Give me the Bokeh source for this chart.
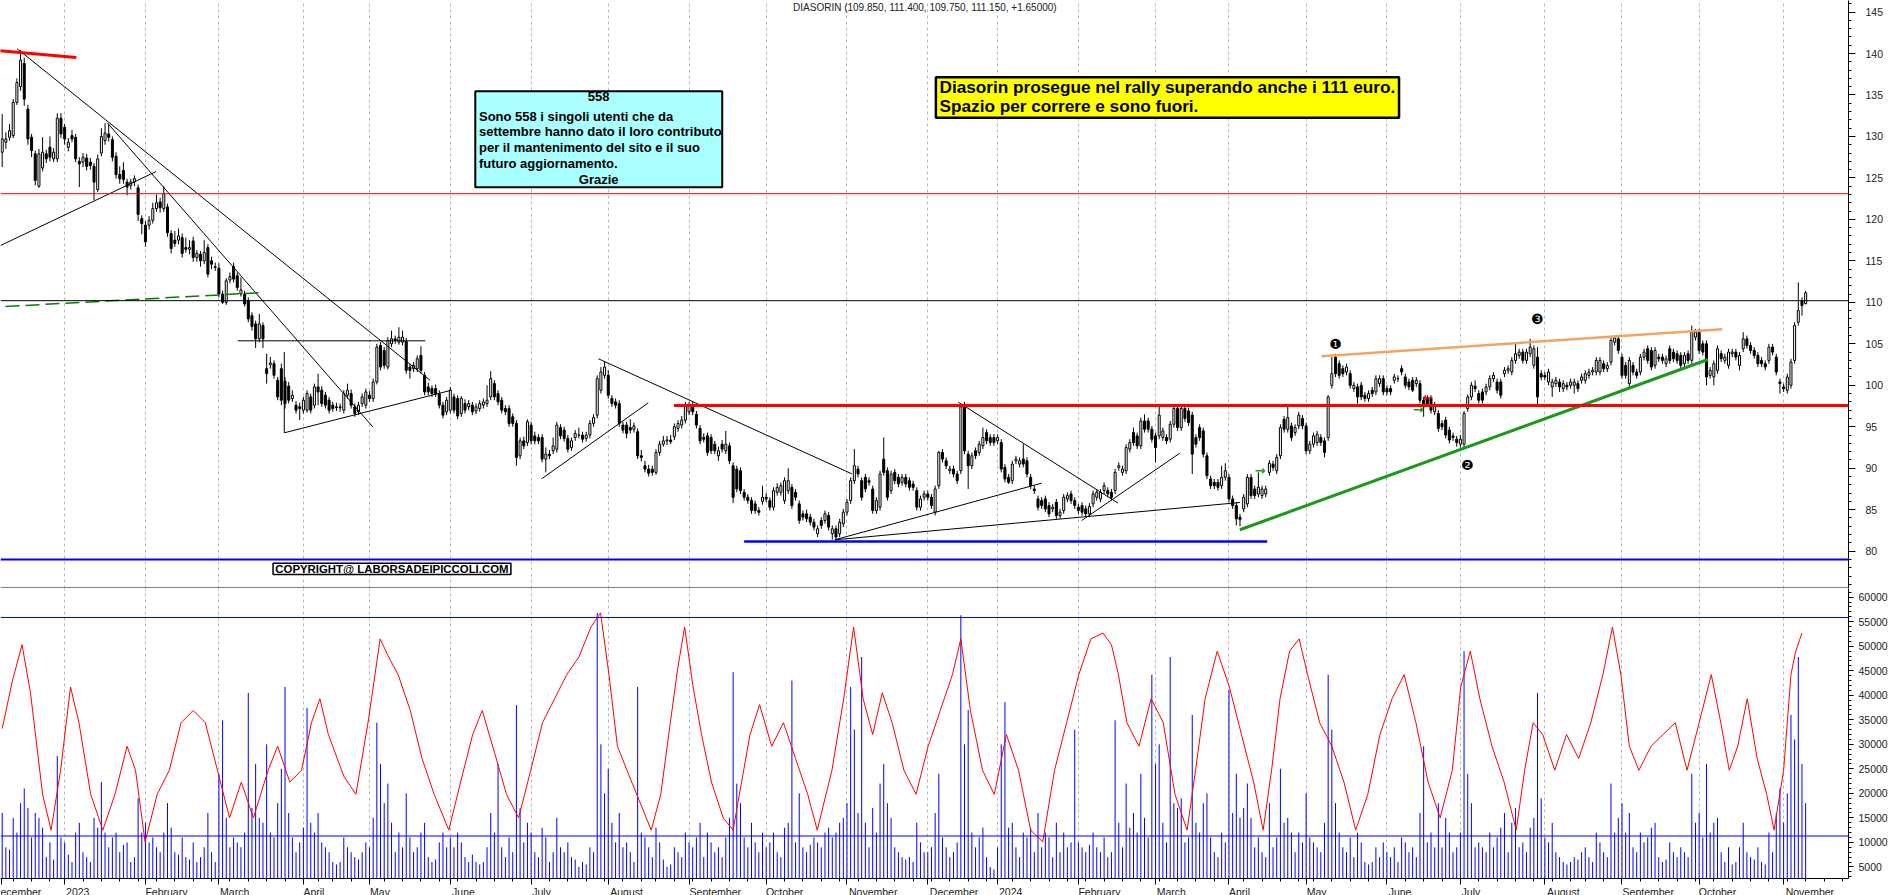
import numpy as np
import pandas as pd
from bokeh.plotting import figure
from bokeh.layouts import column
from bokeh.models import (Range1d, FixedTicker, Span, Grid, GlobalInlineStyleSheet, AllLabels, Label)
from bokeh.core.properties import value
from bokeh.embed import file_html
from bokeh.resources import INLINE

# ---------------- DATA (daily OHLC) ----------------
dec22 = [(128.1,132.7,126.3,129.7),(129.3,130.5,128.5,129.7),(129.9,131.5,129.5,130.7),(130.1,134.5,129.8,134.1),
 (134.1,137.0,133.8,136.5),(136.0,140.4,135.5,139.2),(138.8,139.5,133.7,134.5),(133.3,133.8,129.0,129.7),
 (129.9,130.3,127.5,128.3),(127.9,128.3,124.1,124.7),(124.0,128.5,123.8,127.9),(126.2,129.9,125.8,128.1),
 (127.9,128.4,126.8,127.3),(128.7,130.0,127.0,127.5),(127.3,128.6,126.9,128.1),(127.3,132.8,126.9,132.2),
 (132.2,132.8,129.8,130.3)]
jan23 = [(131.1,131.5,129.0,129.7),(128.7,129.8,128.2,129.3),(130.1,130.8,129.3,129.7),(129.9,130.3,126.9,127.3),
 (127.0,127.5,123.9,126.7),(126.9,128.0,126.3,127.5),(127.4,127.9,125.9,126.4),(126.9,127.4,126.0,126.5),
 (126.4,126.8,122.3,124.5),(123.6,127.8,123.3,127.3),(128.0,131.0,127.6,130.0),(129.5,131.6,129.0,130.4),
 (130.3,131.5,129.4,129.9),(129.6,130.0,127.0,127.5),(127.6,128.1,124.9,125.4),(125.4,126.4,124.3,124.9),
 (125.9,126.9,124.3,124.8),(124.5,124.9,122.9,123.9),(124.1,124.9,123.6,124.5),(124.5,125.3,124.0,124.9),
 (123.8,124.2,119.8,120.6),(120.1,120.5,118.2,119.5)]
feb23 = [(119.3,119.8,116.7,117.3),(119.3,120.4,118.8,119.9),(119.9,122.0,119.5,121.3),(121.3,123.0,120.9,122.0),
 (122.1,122.6,120.8,121.4),(121.3,124.0,120.9,123.1),(121.5,121.9,117.9,118.4),(118.3,118.7,115.9,116.5),
 (117.5,118.6,116.7,117.1),(117.5,118.9,117.0,118.0),(117.8,118.3,115.4,115.9),(116.6,117.8,116.0,116.4),
 (116.4,117.5,115.8,116.6),(117.4,117.9,114.9,115.4),(115.4,116.3,114.9,115.9),(115.8,116.2,114.3,115.0),
 (115.0,117.5,114.6,116.0),(116.6,117.0,113.0,113.4),(115.0,115.5,114.0,114.6),(114.2,114.8,113.8,114.3)]
mar23 = [(114.1,114.7,110.6,111.0),(111.0,111.4,109.8,110.0),(110.0,112.9,109.7,112.6),(112.7,113.6,112.3,113.1),
 (114.3,114.8,112.4,112.8),(113.2,113.6,111.4,111.8),(111.0,113.0,110.7,111.5),(111.0,111.4,109.5,109.8),
 (110.2,110.6,107.6,108.0),(108.4,108.8,106.6,107.1),(107.4,107.8,104.5,105.6),(105.6,108.6,105.2,107.4),
 (107.2,107.6,104.5,105.6),(102.0,103.8,100.2,101.4),(102.5,103.4,102.0,102.7),(102.6,103.0,100.8,101.2),
 (100.6,101.0,98.2,98.6),(102.0,102.6,97.6,98.2),(100.5,101.0,97.2,97.8),(99.9,100.4,97.8,98.2),
 (98.4,99.4,98.0,98.8),(97.6,98.1,96.6,97.0),(97.4,97.9,95.8,97.2)]
apr23 = [(97.0,98.6,96.6,98.2),(97.0,99.4,96.7,99.0),(98.6,99.0,96.6,97.0),(97.6,100.2,97.2,99.8),
 (99.8,101.4,97.6,99.2),(99.4,99.9,97.4,97.8),(98.8,99.2,97.2,97.6),(98.2,98.6,96.6,97.0),
 (97.6,98.0,96.8,97.2),(97.4,97.9,96.9,97.3),(97.3,97.8,96.8,97.4),(97.0,99.4,96.6,99.0),
 (98.8,100.2,98.4,99.4),(99.0,99.5,97.2,97.6),(97.4,97.8,96.2,96.6),(96.8,98.0,96.4,97.6),
 (97.8,99.0,97.4,98.6),(97.6,99.6,97.2,99.2)]
may23 = [(98.8,99.3,98.0,98.4),(98.4,100.8,98.0,100.4),(100.4,105.0,100.1,104.6),(104.8,105.2,101.8,102.2),
 (104.2,104.6,102.0,102.4),(102.2,105.8,101.9,105.4),(105.0,106.6,104.6,105.6),(105.6,106.0,105.0,105.4),
 (105.2,107.0,104.9,105.8),(105.2,106.6,104.8,105.8),(105.3,105.7,101.4,101.8),(102.2,102.6,100.8,101.8),
 (102.0,102.8,101.6,102.4),(102.0,103.6,101.6,103.2),(103.6,104.7,101.4,101.8),(101.2,101.6,98.8,99.2),
 (99.8,100.3,98.8,99.2),(99.6,100.0,98.6,99.0),(99.6,100.1,98.6,99.0),(99.0,99.4,97.2,97.6),
 (97.6,98.0,96.0,96.4),(96.8,98.6,96.4,98.2)]
jun23 = [(97.0,99.8,96.6,99.4),(98.6,99.0,96.6,97.0),(98.4,98.8,95.9,96.3),(96.6,98.7,96.2,98.4),
 (97.8,98.3,96.6,97.0),(97.4,98.2,97.0,97.8),(97.6,98.0,96.4,96.8),(96.9,97.8,96.5,97.4),
 (97.2,98.2,96.8,97.8),(97.6,98.4,97.2,98.0),(97.8,100.0,97.4,98.2),(98.6,101.7,98.2,100.8),
 (100.2,100.6,98.2,98.6),(99.0,99.4,97.6,98.0),(98.2,98.6,96.6,97.0),(97.2,97.6,96.4,96.8),
 (97.2,97.6,95.0,95.4),(96.2,96.6,95.0,95.4),(95.4,95.8,90.3,91.3),(91.5,93.7,91.1,93.3),
 (93.3,93.8,92.3,92.7),(93.1,95.9,92.7,95.6)]
jul23 = [(95.2,95.6,92.9,93.3),(93.9,94.4,92.9,93.3),(93.7,94.1,92.9,93.3),(93.7,94.1,90.7,91.1),
 (91.1,92.5,89.5,91.7),(91.7,92.2,91.1,91.5),(92.1,93.7,91.7,92.7),(92.3,95.6,91.9,95.2),
 (94.9,95.3,93.5,93.9),(94.6,95.0,93.2,93.6),(93.6,94.0,91.9,92.3),(92.5,93.7,92.1,93.3),
 (93.7,94.6,93.3,94.2),(94.0,94.9,93.6,94.0),(94.0,94.4,93.1,93.5),(93.6,94.4,93.2,94.0),
 (94.0,95.8,93.6,95.4),(95.4,96.5,95.0,96.1),(96.4,101.2,96.0,100.8),(99.4,102.2,99.0,101.6),
 (101.2,102.9,100.8,102.2)]
aug23 = [(101.2,101.8,98.4,98.8),(98.4,98.8,97.4,97.8),(98.0,98.4,97.2,97.6),(97.8,98.2,95.0,95.4),
 (95.2,95.6,94.2,94.6),(95.2,95.6,93.6,94.2),(94.9,95.9,94.2,94.6),(94.7,95.5,94.3,95.1),
 (94.4,94.8,91.1,91.5),(91.5,92.2,90.8,91.3),(90.3,90.9,89.5,89.9),(89.9,90.4,89.0,89.4),
 (89.9,90.3,89.1,89.5),(89.5,92.3,89.2,91.9),(91.9,93.3,91.5,92.9),(92.9,93.9,92.6,93.3),
 (93.3,93.9,92.8,93.4),(93.4,94.0,92.9,93.2),(93.8,95.4,93.4,95.0),(94.8,95.8,94.4,95.4),
 (95.2,96.3,94.8,95.8),(95.8,98.0,95.4,97.6)]
sep23 = [(96.8,98.0,96.4,97.6),(97.4,98.0,96.4,96.8),(96.5,96.9,94.8,95.2),(94.8,95.2,92.9,93.3),
 (93.7,94.2,93.1,93.5),(93.9,94.3,91.5,91.9),(93.7,94.1,91.7,92.1),(92.9,93.3,91.7,92.1),
 (91.5,92.6,90.9,92.1),(92.9,93.4,91.9,92.3),(92.1,94.5,91.7,92.9),(92.7,93.1,90.5,90.9),
 (90.3,90.7,85.8,86.5),(89.9,90.3,87.1,87.5),(89.7,90.1,86.9,87.3),(87.1,87.5,86.1,86.5),
 (86.5,86.9,85.7,86.1),(86.1,86.5,84.5,84.9),(85.7,86.1,84.5,84.9),(84.9,85.3,84.3,84.7),
 (86.0,87.9,85.6,86.5)]
oct23 = [(86.5,87.0,85.9,86.3),(86.1,86.5,84.9,85.3),(85.3,87.7,84.9,87.3),(87.1,88.2,86.7,87.7),
 (87.1,88.3,86.7,87.9),(86.1,88.9,85.7,88.5),(87.3,90.0,86.9,88.5),(87.7,88.1,85.1,85.5),
 (87.1,87.5,86.1,86.5),(85.7,86.1,83.3,83.7),(84.5,84.9,83.7,84.1),(84.5,85.0,83.5,83.9),
 (84.1,84.5,83.1,83.5),(83.5,83.9,82.5,82.9),(82.1,83.1,81.7,82.7),(83.7,84.1,82.7,83.1),
 (83.7,84.9,83.3,84.5),(84.3,84.7,82.5,82.9),(82.1,83.1,81.4,82.7),(82.7,83.1,81.3,81.7),
 (82.1,83.9,81.7,83.5),(83.3,85.1,82.9,84.7)]
nov23 = [(84.7,86.3,84.3,85.9),(86.1,88.9,85.7,88.5),(88.5,92.3,88.1,90.3),(89.9,90.3,88.9,89.3),
 (88.5,88.9,86.1,86.5),(88.9,89.3,87.1,87.5),(88.5,88.9,87.9,88.3),(87.5,87.9,84.5,84.9),
 (84.9,86.5,84.5,86.1),(85.3,89.7,84.9,89.3),(91.1,93.7,89.1,89.5),(89.7,90.1,86.1,86.5),
 (87.3,89.7,86.9,89.3),(89.5,89.9,88.1,88.5),(88.9,89.3,87.7,88.1),(88.3,89.3,87.9,88.9),
 (88.9,89.3,87.7,88.1),(88.5,88.9,87.3,87.7),(88.1,88.5,87.3,87.7),(87.3,87.7,84.9,85.3),
 (85.3,86.7,84.9,86.3),(86.5,87.3,86.1,86.9)]
dec23 = [(86.9,87.3,86.1,86.5),(86.5,86.9,85.1,85.5),(84.7,87.9,84.3,87.5),(87.9,92.1,87.5,91.9),
 (91.9,92.3,90.7,91.1),(90.9,91.3,89.9,90.3),(89.7,90.3,89.3,89.9),(89.9,90.3,88.9,89.3),
 (89.3,89.7,88.1,88.5),(89.7,97.8,89.3,97.4),(97.4,98.0,91.7,92.1),(91.7,92.1,87.5,90.3),
 (90.3,91.9,89.9,91.5),(92.1,92.5,91.1,91.5),(91.9,93.3,91.5,92.9),(92.7,94.9,92.3,93.7),
 (94.3,94.7,92.9,93.3),(93.7,94.1,92.7,93.1),(93.7,94.1,92.7,93.1)]
jan24 = [(93.3,94.1,92.9,93.7),(93.1,93.5,89.5,89.9),(90.1,90.5,88.3,88.7),(88.9,89.3,88.1,88.3),
 (88.5,90.9,88.1,90.5),(90.9,91.5,90.5,91.1),(90.5,91.3,90.1,90.9),(91.1,92.9,90.1,90.5),
 (90.9,91.3,88.9,89.3),(88.9,89.3,87.5,87.9),(87.5,87.9,86.9,87.3),(86.3,86.7,84.9,85.3),
 (86.1,86.5,85.1,85.5),(86.3,86.7,84.7,85.1),(85.5,85.9,84.1,84.5),(85.1,85.7,84.7,85.3),
 (85.9,86.3,83.9,84.3),(84.3,85.1,83.9,84.7),(84.9,86.9,84.5,86.5),(86.3,87.1,85.9,86.7),
 (86.9,87.3,85.7,86.1),(86.1,86.5,85.1,85.5)]
feb24 = [(85.3,85.7,84.5,84.9),(85.5,85.9,84.3,84.7),(85.1,85.5,84.1,84.5),(84.5,85.8,84.1,85.4),
 (85.7,87.3,85.3,86.9),(86.5,87.5,86.1,87.1),(86.3,87.5,85.9,87.1),(87.3,88.3,86.9,87.9),
 (87.3,87.7,86.5,86.9),(87.1,87.5,86.1,86.5),(87.3,89.9,86.9,89.5),(90.1,90.7,89.7,90.3),
 (89.5,90.3,89.1,89.9),(89.7,92.9,89.3,92.5),(92.3,93.5,91.9,93.1),(94.3,94.9,92.7,93.1),
 (93.9,94.3,92.3,92.7),(92.7,96.1,92.3,95.7),(95.7,96.5,94.3,94.7),(95.7,96.1,94.3,94.7),
 (94.7,95.1,93.1,93.5)]
mar24 = [(93.9,94.3,90.7,92.5),(93.9,97.5,93.5,96.4),(93.7,94.9,93.3,94.5),(93.7,94.1,92.9,93.3),
 (93.5,95.7,93.1,95.3),(95.3,97.5,94.9,97.2),(97.2,97.6,94.5,94.9),(94.9,97.6,94.5,97.2),
 (97.2,97.4,95.6,96.0),(96.9,97.3,95.1,95.5),(96.4,96.8,89.3,91.7),(93.7,94.1,92.5,92.9),
 (94.9,95.3,93.3,93.7),(94.5,94.9,91.3,91.7),(91.5,91.9,88.7,89.1),(88.7,89.1,87.5,87.9),
 (88.3,88.7,87.5,87.9),(88.3,88.7,87.3,87.7),(87.9,90.3,87.5,88.9),(88.9,90.6,88.5,89.7)]
apr24 = [(88.9,89.3,85.9,86.3),(86.3,86.7,85.1,85.5),(85.5,85.9,83.1,83.9),(84.1,84.5,83.0,83.8),
 (85.1,86.9,84.7,86.5),(85.7,89.3,85.3,88.9),(88.9,89.3,86.3,86.7),(87.5,87.9,86.3,86.7),
 (86.9,89.5,86.5,87.7),(86.7,87.9,86.3,87.5),(86.9,87.9,86.5,87.5),(89.5,91.0,89.1,90.6),
 (90.5,90.9,89.7,90.1),(89.7,91.7,89.3,91.3),(91.5,95.3,91.1,94.9),(95.9,96.3,94.3,94.7),
 (94.7,97.4,94.3,96.1),(95.1,95.5,93.3,93.7),(94.3,95.3,93.9,94.9),(95.1,96.8,94.7,96.4),
 (96.0,96.4,94.7,95.1)]
may24 = [(95.1,95.5,91.7,92.1),(92.1,93.3,91.7,92.9),(92.9,94.3,92.5,93.9),(93.1,94.5,92.7,94.1),
 (93.7,94.1,92.7,93.1),(93.3,93.7,91.3,91.9),(93.7,98.8,93.3,98.6),(100.0,103.4,99.6,101.4),
 (103.4,103.8,101.0,101.4),(102.6,103.0,100.8,101.2),(102.0,102.4,101.0,101.4),(101.6,102.6,101.2,102.2),
 (101.4,101.8,99.6,100.0),(99.6,100.4,99.2,100.0),(99.8,100.2,97.8,98.6),(100.0,100.4,98.2,98.6),
 (98.8,99.2,98.0,98.4),(98.4,99.4,98.0,99.0),(99.4,99.8,98.6,99.0),(99.2,101.2,98.8,100.8),
 (100.2,101.2,99.8,100.8),(100.8,101.2,98.8,99.2)]
jun24 = [(99.6,100.0,98.8,99.2),(99.6,100.0,98.8,99.2),(100.6,101.4,100.2,101.0),(100.8,101.2,100.4,100.8),
 (102.0,102.4,101.2,101.6),(101.0,101.4,99.6,100.0),(100.4,100.8,99.4,99.8),(100.6,101.0,99.2,99.4),
 (100.2,101.0,99.8,100.6),(100.2,100.6,97.8,98.2),(98.2,98.6,96.2,97.4),(98.4,98.8,97.4,97.8),
 (98.4,98.8,96.6,97.0),(96.8,98.0,96.4,97.6),(96.6,97.0,94.4,94.8),(95.4,95.8,94.6,95.0),
 (95.8,96.2,93.6,94.0),(94.6,95.0,93.0,93.4),(93.9,94.3,93.3,93.7),(93.5,93.9,92.6,93.1)]
jul24 = [(92.9,94.0,92.5,93.5),(92.9,96.9,92.5,96.6),(97.2,98.9,96.8,98.6),(98.6,100.4,98.2,100.0),
 (99.9,100.6,99.2,99.6),(99.0,99.4,97.8,98.2),(99.2,99.6,97.8,98.2),(99.2,100.2,98.8,99.8),
 (99.8,101.2,99.4,100.8),(100.8,101.6,100.4,101.2),(100.4,100.8,99.0,99.4),(100.4,100.8,98.4,98.8),
 (101.4,102.2,101.0,101.8),(101.8,102.4,101.4,102.0),(101.6,103.4,101.2,103.0),(103.0,105.2,102.6,103.8),
 (103.6,104.4,103.2,104.0),(104.0,104.4,102.6,103.0),(103.0,104.4,102.6,104.0),(103.8,105.6,103.4,104.6),
 (102.4,104.8,102.0,104.4),(103.4,104.6,97.4,98.6),(101.4,101.8,100.6,101.0)]
aug24 = [(101.2,101.6,100.6,101.0),(100.4,102.0,100.0,101.6),(99.8,100.8,98.6,100.4),(100.2,101.0,99.8,100.6),
 (100.4,100.8,99.2,99.8),(99.6,100.6,99.2,100.2),(100.0,100.4,99.4,99.8),(100.0,100.8,99.6,100.4),
 (100.0,100.8,99.0,100.4),(100.2,100.6,99.2,99.6),(100.6,101.4,100.2,101.0),(100.6,101.8,100.2,101.4),
 (101.2,102.0,100.8,101.6),(101.6,102.2,101.2,101.8),(101.6,103.4,101.2,103.0),(101.6,103.4,101.2,103.0),
 (102.6,103.0,101.6,102.0),(102.0,102.8,101.6,102.4),(102.8,105.8,102.4,105.4),(105.2,106.0,104.8,105.7),
 (105.6,106.0,103.8,104.2)]
sep24 = [(103.4,103.8,100.8,101.2),(102.4,102.8,100.8,101.2),(100.2,103.4,99.8,103.0),(102.4,102.8,101.2,101.6),
 (101.6,102.0,100.8,101.2),(101.6,103.8,101.2,103.4),(103.4,104.4,103.0,104.0),(104.4,104.8,102.6,103.0),
 (104.2,104.6,101.8,102.2),(102.4,104.6,102.0,104.2),(103.4,103.8,102.8,103.2),(103.4,103.8,102.6,103.0),
 (102.6,103.6,102.2,103.2),(104.4,104.8,102.6,103.0),(104.0,104.4,102.8,103.2),(103.8,104.2,102.6,103.0),
 (103.6,104.0,102.0,102.4),(102.6,104.0,102.2,103.6),(103.8,104.2,102.6,103.0),(103.0,107.2,102.6,106.4),
 (105.8,106.8,105.4,106.4)]
oct24 = [(106.4,106.8,103.8,104.2),(105.0,105.4,103.6,104.0),(105.0,105.4,100.0,101.0),(101.2,102.2,100.8,101.8),
 (101.0,103.0,100.0,102.6),(101.8,104.8,101.4,104.4),(103.8,104.2,102.8,103.2),(103.0,103.8,102.6,103.4),
 (102.4,104.4,102.0,104.0),(103.8,104.4,103.4,104.0),(104.0,104.4,103.0,103.4),(102.4,104.0,101.8,103.6),
 (104.4,106.4,104.0,105.6),(105.6,106.0,104.4,104.8),(104.8,105.2,103.8,104.2),(104.2,104.6,103.2,103.6),
 (103.6,104.0,102.2,102.6),(103.0,103.4,102.2,102.6),(102.6,103.0,101.8,102.2),(103.0,105.0,102.6,104.6),
 (104.6,105.0,103.6,104.0),(103.4,103.8,101.2,101.6),(100.4,100.8,99.0,100.2)]
nov24 = [(99.8,100.2,99.2,99.6),(99.4,101.4,99.0,101.0),(100.0,103.2,99.6,102.8),(103.0,107.6,102.6,107.2),
 (107.6,112.4,107.2,109.0),(110.2,110.6,108.4,109.6),(109.85,111.4,109.75,111.15)]

months_ohlc = [dec22, jan23, feb23, mar23, apr23, may23, jun23, jul23, aug23, sep23, oct23, nov23,
               dec23, jan24, feb24, mar24, apr24, may24, jun24, jul24, aug24, sep24, oct24, nov24]

# daily volume (units of the lower axis, "x10")
vol_dec22 = [16000, 9000, 8500, 15000, 12000, 18000, 21000, 17000, 11000, 16000, 15000, 13000, 7000, 10000, 6500,
             27600, 11000]
vol_jan23 = [10000, 7500, 6000, 12000, 14000, 8000, 7000, 6000, 15000, 13000, 22300, 12000, 9000, 11000, 12000,
             8000, 9500, 10000, 6000, 7000, 19000, 12000]
vol_feb23 = [14000, 10000, 11000, 9000, 8000, 12000, 18000, 13000, 8000, 7500, 11000, 7000, 6500, 10000, 6000,
             7000, 9000, 16000, 8000, 6000]
vol_mar23 = [24000, 34900, 15000, 9000, 11000, 10000, 9000, 12000, 40500, 17000, 26000, 15000, 14000, 30000,
             12000, 11000, 18000, 25000, 41700, 16000, 11000, 8000, 10000]
vol_apr23 = [13000, 37400, 14000, 12000, 16000, 10000, 9000, 8000, 6000, 5500, 6000, 11000, 9000, 8000, 7000,
             6500, 8000, 10000]
vol_may23 = [9000, 15000, 34400, 26000, 18000, 22000, 14000, 8000, 12000, 9000, 20000, 11000, 8000, 9000, 12000,
             14000, 7000, 6000, 6500, 10000, 12000, 9000]
vol_jun23 = [11000, 9000, 12000, 10000, 7000, 6000, 7500, 6000, 5500, 6000, 9000, 16000, 12000, 26000, 9000,
             7000, 11000, 8000, 38000, 17000, 10000, 14000]
vol_jul23 = [12000, 8000, 7000, 13000, 11000, 6000, 8000, 15000, 9000, 8000, 10000, 7000, 6500, 5000, 6000, 5500,
             9000, 8000, 56800, 30000, 20000]
vol_aug23 = [25000, 14000, 10000, 16000, 9000, 10000, 8000, 6000, 41700, 12000, 11000, 9000, 7000, 13000, 10000,
             6500, 5000, 5500, 9000, 8000, 7000, 12000]
vol_sep23 = [10000, 9000, 11000, 14000, 7000, 12000, 10000, 8000, 9000, 7000, 11000, 15000, 44700, 22000, 18000,
             11000, 9000, 14000, 10000, 8000, 12000]
vol_oct23 = [9000, 10000, 12000, 8000, 7000, 13000, 14000, 43000, 10000, 20000, 9000, 8000, 9500, 11000, 10000,
             9000, 12000, 13000, 11000, 12000, 14000, 15000]
vol_nov23 = [18000, 41700, 33000, 16000, 47800, 14000, 9000, 17000, 12000, 22000, 26000, 18000, 15000, 9000,
             8000, 7000, 6500, 7000, 6000, 14000, 10000, 8000]
vol_dec23 = [8000, 9000, 16000, 24000, 11000, 9000, 7000, 8000, 10000, 56300, 30000, 37000, 12000, 9000, 11000,
             13000, 7000, 5000, 4500]
vol_jan24 = [9000, 30000, 38600, 13000, 14000, 9000, 7000, 12000, 11000, 13000, 8000, 16000, 9000, 12000, 11000,
             7000, 14000, 8000, 12000, 9000, 10000, 33000]
vol_feb24 = [10000, 9000, 8000, 9500, 12000, 9000, 8000, 11000, 7000, 8000, 34900, 14000, 9000, 22000, 13000,
             16000, 12000, 24000, 15000, 11000, 44200]
vol_mar24 = [26000, 30000, 14000, 10000, 47800, 18000, 17000, 19000, 10000, 11000, 36000, 14000, 12000, 18000,
             20000, 11000, 8000, 7000, 12000, 10000]
vol_apr24 = [41000, 16000, 24000, 15000, 17000, 22000, 15000, 9000, 11000, 8000, 7000, 18000, 9000, 11000, 25000,
             14000, 15000, 12000, 8000, 12000, 10000]
vol_may24 = [20000, 11000, 10000, 9000, 8000, 14000, 44200, 33000, 18000, 12000, 9000, 8000, 11000, 7000, 12000,
             10000, 6000, 5500, 6000, 9000, 7000, 10000]
vol_jun24 = [8000, 7000, 9000, 6000, 11000, 10000, 8000, 9000, 7000, 16000, 29600, 10000, 12000, 9000, 18000,
             9000, 15000, 12000, 8000, 9000]
vol_jul24 = [12000, 49000, 24000, 18000, 9000, 10000, 9000, 8000, 12000, 9000, 11000, 13000, 16000, 8000, 14000,
             17000, 9000, 10000, 8000, 13000, 15000, 40500, 19000]
vol_aug24 = [11000, 10000, 14000, 8000, 7000, 6000, 5500, 6000, 7000, 6500, 8000, 9000, 7000, 6000, 12000, 10000,
             8000, 7000, 22000, 12000, 15000]
vol_sep24 = [18000, 12000, 16000, 9000, 8000, 12000, 10000, 11000, 13000, 14000, 7000, 6000, 6500, 10000, 8000,
             7000, 9000, 8000, 7000, 24000, 14000]
vol_oct24 = [16000, 11000, 26000, 12000, 14000, 15000, 8000, 6000, 9000, 5500, 6000, 9000, 14000, 8000, 7000,
             6500, 9000, 6000, 5500, 12000, 8000, 16000, 21000]
vol_nov24 = [14000, 20000, 36000, 31000, 47800, 26000, 18000]

months_vol = [vol_dec22, vol_jan23, vol_feb23, vol_mar23, vol_apr23, vol_may23, vol_jun23, vol_jul23, vol_aug23,
              vol_sep23, vol_oct23, vol_nov23, vol_dec23, vol_jan24, vol_feb24, vol_mar24, vol_apr24, vol_may24,
              vol_jun24, vol_jul24, vol_aug24, vol_sep24, vol_oct24, vol_nov24]

# red oscillator in the lower panel: (trading-day index, value), read at its turning points
osc_day = [0, 2.8, 5.4, 7.7, 11.0, 13.3, 15.9, 18.6, 20.9, 24.1, 27.4, 30.7, 34.0, 36.3, 38.9, 42.2, 45.5, 48.7,
           52.0, 55.3, 58.6, 61.9, 65.1, 68.4, 72.4, 75.0, 78.3, 81.5, 84.2, 86.5, 88.8, 93.0, 96.3, 99.6, 102.9,
           105.2, 107.8, 111.1, 114.3, 117.6, 121.6, 124.8, 128.1, 130.7, 134.0, 137.3, 140.6, 143.9, 147.1,
           150.4, 153.7, 157.0, 160.3, 162.9, 165.2, 167.5, 170.1, 173.4, 176.7, 179.3, 181.9, 183.9, 185.8,
           188.1, 190.4, 193.1, 196.3, 199.0, 201.3, 203.6, 206.2, 209.5, 212.7, 216.0, 219.3, 221.9, 225.9,
           229.1, 231.8, 234.4, 237.0, 239.6, 242.3, 245.5, 248.8, 252.1, 255.4, 258.7, 261.0, 263.6, 266.9,
           270.1, 273.4, 276.7, 280.0, 283.3, 286.5, 289.8, 293.1, 296.4, 299.7, 302.0, 303.9, 306.2, 309.5,
           312.8, 316.1, 319.3, 322.6, 324.9, 327.5, 330.8, 334.1, 337.4, 340.7, 343.3, 345.6, 347.9, 350.5,
           353.1, 355.4, 358.7, 362.0, 365.3, 368.5, 371.8, 375.1, 378.4, 381.7, 384.9, 388.2, 391.5, 394.8,
           397.1, 399.7, 402.3, 405.6, 408.9, 412.2, 414.5, 416.8, 419.4, 422.7, 425.9, 429.2, 432.5, 435.8,
           438.4, 440.7, 443.0, 445.6, 448.9, 452.2, 455.5, 458.7, 462.0, 465.3, 467.9, 470.2, 472.5, 475.1,
           477.8, 480.4, 482.4, 485.0, 487.0, 488.3, 490.0]
osc_val = [33200, 43000, 50300, 40500, 19800, 12500, 24700, 41700, 34400, 19800, 12500, 19800, 29600, 24700,
           10100, 19800, 24700, 34400, 36900, 34400, 24700, 15000, 22300, 15000, 24700, 29600, 22300, 24700,
           34400, 39300, 32000, 23500, 19800, 34400, 51500, 47800, 44200, 36900, 27100, 19800, 12500, 22300,
           32000, 36900, 28400, 19800, 15000, 24700, 34400, 39300, 44200, 47800, 53900, 56800, 44200, 29600,
           24700, 18600, 12500, 19800, 34400, 45400, 53900, 41700, 32000, 22300, 15000, 12500, 22300, 32000,
           38100, 29600, 34400, 27100, 19800, 12500, 24700, 39300, 53900, 39300, 32000, 40500, 34400, 24700,
           19800, 29600, 36900, 44200, 51500, 36900, 24700, 19800, 32000, 24700, 12500, 10100, 24700, 34400,
           44200, 51500, 52700, 50300, 44200, 34400, 29600, 39300, 34400, 19800, 12500, 24700, 39300, 49000,
           41700, 32000, 22300, 12500, 24700, 39300, 49000, 51500, 44200, 34400, 29600, 22300, 12500, 19800,
           32000, 39300, 44200, 34400, 22300, 15000, 24700, 41700, 49000, 39300, 29600, 22300, 12500, 24700,
           34400, 32000, 24700, 32000, 27100, 34400, 44200, 53900, 44200, 29600, 24700, 29600, 32000, 34400,
           24700, 34400, 44200, 34400, 24700, 29600, 39300, 27100, 19800, 12500, 24700, 44200, 49000, 52700]

first_day = "2022-12-07"
holidays = ["2022-12-26", "2023-04-07", "2023-04-10", "2023-05-01", "2023-08-15", "2023-12-25",
            "2023-12-26", "2024-01-01", "2024-03-29", "2024-04-01", "2024-05-01", "2024-08-15",
            "2024-12-24", "2024-12-25", "2024-12-26", "2024-12-31"]
month_names = ["January", "February", "March", "April", "May", "June", "July", "August",
               "September", "October", "November", "December"]
edge_label = "ecember"   # what is visible of the month cut by the left edge
scale_note = "x10"

# horizontal levels (price)
level_red = 123.1
level_black = 110.2
level_blue = 79.0
level_red_thick = 97.56
level_blue_thick = 81.17
# horizontal levels (lower panel)
vol_level_hi = 55850
vol_level_lo = 11300

# trend lines: (day0, price0, day1, price1)
black_lines = [(4.08, 140.57, 116.5, 100.6), (28.7, 131.6, 100.96, 94.95), (-0.46, 116.85, 41.9, 125.77),
               (64.1, 105.36, 115.2, 105.36), (76.8, 104.0, 76.8, 94.27), (76.8, 94.27, 122.0, 99.37),
               (146.9, 88.73, 175.9, 97.89), (162.3, 103.2, 231.3, 89.33), (226.7, 81.37, 283.0, 88.2),
               (226.7, 81.37, 336.96, 85.87), (260.3, 97.96, 303.8, 85.79), (293.9, 83.7, 320.6, 91.81)]
red_top_line = (-1.0, 140.36, 20.2, 139.52)
green_dashed = (0.9, 109.5, 69.8, 111.15)
orange_line = (359.2, 103.5, 468.3, 106.76)
green_line = (336.96, 82.58, 464.4, 103.11)
red_thick_from = 182.9
blue_thick_span = (202.0, 344.4)

title_text = "DIASORIN (109.850, 111.400, 109.750, 111.150, +1.65000)"
cyan_lines = ["Sono 558 i singoli utenti che da", "settembre hanno dato il loro contributo",
              "per il mantenimento  del sito e il suo", "futuro aggiornamento."]
yellow_lines = ["Diasorin prosegue nel rally superando anche i 111 euro.", "Spazio per correre e sono fuori."]
copyright_text = "COPYRIGHT@ LABORSADEIPICCOLI.COM"

# ---------------- derived ----------------
rows = [r for m in months_ohlc for r in m]
o = np.array([r[0] for r in rows]); h = np.array([r[1] for r in rows])
l = np.array([r[2] for r in rows]); c = np.array([r[3] for r in rows])
n = len(rows)
idx = np.arange(n)
vol = np.array([v for m in months_vol for v in m], dtype=float)
vidx = np.arange(len(vol))

cal = pd.bdate_range("2022-12-01", "2024-12-31")
cal = cal[~cal.isin(pd.to_datetime(holidays))]
pos0 = cal.get_loc(pd.Timestamp(first_day))
cal_idx = np.arange(len(cal)) - pos0
ser = pd.Series(cal_idx, index=cal)
month_first = ser.groupby([ser.index.year, ser.index.month]).min()
month_ticks = [int(v) for v in month_first.values]

# Arial/Liberation Sans advance widths (1/1000 em) to pad axis labels so they start at their tick
AW = {'A': 667, 'D': 722, 'F': 611, 'J': 500, 'M': 833, 'N': 722, 'O': 778, 'S': 667, 'a': 556, 'b': 556,
      'c': 500, 'e': 556, 'g': 556, 'h': 556, 'i': 222, 'l': 222, 'm': 833, 'n': 556, 'o': 556, 'p': 556,
      'r': 333, 's': 500, 't': 278, 'u': 556, 'v': 500, 'y': 500, '0': 556, '1': 556, '2': 556, '3': 556,
      '4': 556, '5': 556, '6': 556, '7': 556, '8': 556, '9': 556}
EN = "\u2002"  # en space, 0.5 em


def em(s):
    return sum(AW.get(ch, 556) for ch in s) / 1000.0


def padded(s, shift_em=0.0):
    k = max(0, int(round((em(s) + shift_em) / 0.5)))
    return EN * k + s


month_labels = {}
for (yy, mm), v in month_first.items():
    lab = str(yy) if mm == 1 else month_names[mm - 1]
    month_labels[int(v)] = padded(lab, 0.15)
axis_ticks = list(month_ticks)
axis_ticks.append(-0.25)
month_labels[-0.25] = edge_label
iso = ser.index.isocalendar()
week_first = ser.groupby([iso.year.values, iso.week.values]).min()
week_ticks = [int(v) for v in week_first.values]

PX = 3.675
X0 = -1.7 / PX
X1 = (1849 - 1.7) / PX

FONT = value("Liberation Sans")
GRID = "#b8b8b8"

# ---------------- price figure ----------------
p1 = figure(width=1890, height=588, x_range=Range1d(X0, X1), y_range=Range1d(75.50, 146.39),
            output_backend="svg", toolbar_location=None, x_axis_location=None, y_axis_location="right",
            min_border_left=0, min_border_top=0, min_border_bottom=0, min_border_right=41)
p1.outline_line_color = None
p1.background_fill_color = "white"
p1.border_fill_color = "white"
for g in p1.xgrid:
    g.visible = False
for g in p1.ygrid:
    g.visible = False
p1.add_layout(Grid(dimension=0, ticker=FixedTicker(ticks=month_ticks), grid_line_color=GRID,
                   grid_line_dash="3 3", grid_line_width=1))

ya = p1.yaxis[0]
ya.ticker = FixedTicker(ticks=list(range(80, 146, 5)), minor_ticks=list(range(76, 147)))
ya.axis_line_color = "black"
ya.major_tick_line_color = "black"
ya.minor_tick_line_color = "black"
ya.major_tick_in = 0
ya.minor_tick_in = 0
ya.major_tick_out = 7
ya.minor_tick_out = 3
ya.major_label_standoff = 10
ya.major_label_text_font = "Liberation Sans"
ya.major_label_text_font_size = "10.5px"
ya.major_label_text_color = "#222222"

for lev, col, w in [(level_red, "red", 1), (level_black, "black", 1), (level_blue, "#0000ff", 2)]:
    p1.add_layout(Span(location=lev, dimension="width", line_color=col, line_width=w))
p1.add_layout(Span(location=75.56, dimension="width", line_color="black", line_width=1))

# candles
up = c >= o
p1.segment(x0=idx, y0=l, x1=idx, y1=h, line_color="black", line_width=1)
p1.vbar(x=idx[up], width=0.55, top=c[up], bottom=o[up], fill_color="white", line_color="black", line_width=1)
p1.vbar(x=idx[~up], width=0.55, top=o[~up], bottom=c[~up], fill_color="black", line_color="black", line_width=1)

# trend lines
p1.segment(x0=[b[0] for b in black_lines], y0=[b[1] for b in black_lines],
           x1=[b[2] for b in black_lines], y1=[b[3] for b in black_lines], line_color="black", line_width=1)
p1.line([red_top_line[0], red_top_line[2]], [red_top_line[1], red_top_line[3]], line_color="red", line_width=3)
p1.line([green_dashed[0], green_dashed[2]], [green_dashed[1], green_dashed[3]], line_color="#008000",
        line_width=1.5, line_dash="14 6")
p1.line([orange_line[0], orange_line[2]], [orange_line[1], orange_line[3]], line_color="#f4a460", line_width=2.5)
p1.line([green_line[0], green_line[2]], [green_line[1], green_line[3]], line_color="#1a9a1a", line_width=3)
p1.line([red_thick_from, X1 + 1], [level_red_thick, level_red_thick], line_color="red", line_width=3)
p1.line(list(blue_thick_span), [level_blue_thick, level_blue_thick], line_color="#0000ff", line_width=2.5)

# markers & arrows
p1.text(x=[363.0, 398.9, 417.96], y=[105.0, 90.42, 107.97], text=["\u2776", "\u2777", "\u2778"],
        text_font=value("DejaVu Sans"), text_font_size="14px", text_align="center", text_baseline="middle",
        text_color="black")
p1.text(x=[342.4, 385.5], y=[89.7, 97.05], text=["\u2192", "\u2192"], text_font=value("DejaVu Sans"),
        text_font_style="bold", text_font_size="13px", text_align="center", text_baseline="middle",
        text_color="#1a9a1a")
p1.text(x=[388.2], y=[98.57], text=["\u2190"], text_font=value("DejaVu Sans"), text_font_style="bold",
        text_font_size="13px", text_align="center", text_baseline="middle", text_color="red")

# title
p1.text(x=[251.2], y=[145.51], text=[title_text], text_font=FONT, text_font_size="10px",
        text_align="center", text_baseline="middle", text_color="#202020")

# cyan box
p1.quad(left=[128.8], right=[196.03], top=[135.44], bottom=[123.89], fill_color="#aaffff",
        line_color="black", line_width=2)
p1.text(x=[162.4, 162.4], y=[134.79, 124.85], text=["558", "Grazie"], text_font=FONT, text_font_style="bold",
        text_font_size="13px", text_align="center", text_baseline="middle", text_color="black")
p1.text(x=[129.8] * 4, y=[132.42, 130.56, 128.61, 126.70], text=cyan_lines, text_font=FONT,
        text_font_style="bold", text_font_size="13px", text_align="left", text_baseline="middle",
        text_color="black")

# yellow box
p1.quad(left=[254.2], right=[380.3], top=[137.14], bottom=[132.25], fill_color="#ffff00",
        line_color="black", line_width=2.5)
p1.text(x=[255.2, 255.2], y=[135.94, 133.73], text=yellow_lines, text_font=FONT, text_font_style="bold",
        text_font_size="17.2px", text_align="left", text_baseline="middle", text_color="black")

# copyright
p1.quad(left=[73.74], right=[138.5], top=[78.55], bottom=[77.19], fill_color="white",
        line_color="black", line_width=1.5)
p1.text(x=[106.1], y=[77.88], text=[copyright_text], text_font=FONT, text_font_style="bold",
        text_font_size="11.4px", text_align="center", text_baseline="middle", text_color="black")

# ---------------- lower figure ----------------
VMIN = 2636
p2 = figure(width=1890, height=312, x_range=p1.x_range, y_range=Range1d(VMIN, 61768),
            output_backend="svg", toolbar_location=None, y_axis_location="right",
            min_border_left=0, min_border_top=0, min_border_bottom=0, min_border_right=41)
p2.outline_line_color = None
p2.background_fill_color = "white"
p2.border_fill_color = "white"
for g in p2.ygrid:
    g.visible = False
for g in p2.xgrid:
    g.visible = False
p2.add_layout(Grid(dimension=0, ticker=FixedTicker(ticks=month_ticks), grid_line_color=GRID,
                   grid_line_dash="3 3", grid_line_width=1))

va = p2.yaxis[0]
va.ticker = FixedTicker(ticks=list(range(5000, 60001, 5000)), minor_ticks=list(range(3000, 62000, 1000)))
va.axis_line_color = "black"
va.major_tick_in = 0
va.minor_tick_in = 0
va.major_tick_out = 5
va.minor_tick_out = 3
va.major_label_standoff = 5
va.major_label_text_font = "Liberation Sans"
va.major_label_text_font_size = "10.5px"
va.major_label_text_color = "#222222"

xa = p2.xaxis[0]
xa.ticker = FixedTicker(ticks=axis_ticks, minor_ticks=week_ticks)
xa.major_label_overrides = month_labels
xa.major_label_policy = AllLabels()
xa.major_label_standoff = 1
xa.major_tick_in = 0
xa.minor_tick_in = 0
xa.major_tick_out = 6
xa.minor_tick_out = 3
xa.major_label_text_font = "Liberation Sans"
xa.major_label_text_font_size = "10.5px"
xa.major_label_text_color = "#222222"

p2.segment(x0=vidx, y0=np.full(len(vol), VMIN), x1=vidx, y1=vol, line_color="#0000ff", line_width=1)
p2.add_layout(Span(location=vol_level_hi, dimension="width", line_color="#0000ff", line_width=1))
p2.add_layout(Span(location=vol_level_lo, dimension="width", line_color="#0000ff", line_width=1))
p2.line(osc_day, osc_val, line_color="red", line_width=1)

# small multiplier note right of the lower axis, just under its last tick
p2.add_layout(Label(x=1853, y=1, x_units="screen", y_units="screen", text=scale_note, text_font="Liberation Sans",
                    text_font_size="8px", text_color="#222222", text_baseline="bottom", text_align="left",
                    border_line_color="black", border_line_width=1, padding=1))

layout = column(p1, p2, spacing=0,
                stylesheets=[GlobalInlineStyleSheet(css="html,body{margin:0 !important;padding:0;overflow:hidden;}")])

open("out.html", "w").write(file_html(layout, INLINE))
